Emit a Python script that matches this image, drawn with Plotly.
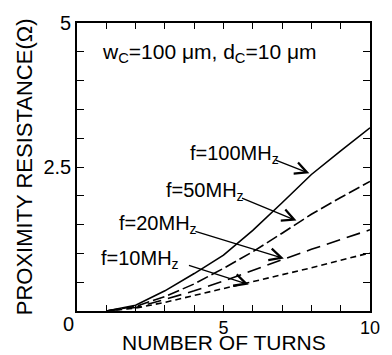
import plotly.graph_objects as go

turns = [1, 2, 3, 4, 5, 6, 7, 8, 9, 10]
r_100mhz = [0.0, 0.10, 0.35, 0.65, 0.97, 1.40, 1.88, 2.37, 2.78, 3.18]
r_50mhz = [0.0, 0.08, 0.25, 0.47, 0.74, 1.03, 1.35, 1.68, 1.97, 2.25]
r_20mhz = [0.0, 0.06, 0.20, 0.35, 0.52, 0.71, 0.89, 1.07, 1.24, 1.41]
r_10mhz = [0.0, 0.05, 0.15, 0.27, 0.39, 0.50, 0.62, 0.75, 0.88, 1.01]

series = [
    ("f=100MH<sub>z</sub>", r_100mhz, "solid"),
    ("f=50MH<sub>z</sub>", r_50mhz, "12px,4px"),
    ("f=20MH<sub>z</sub>", r_20mhz, "14px,7px"),
    ("f=10MH<sub>z</sub>", r_10mhz, "6px,4px"),
]

# label text position (x, y) and arrow tail -> tip in data coordinates
label_pos = [(3.78, 2.72), (2.96, 2.08), (1.35, 1.51), (0.76, 0.90)]
arrow_tail = [(6.73, 2.63), (5.58, 1.97), (3.99, 1.39), (3.77, 0.80)]
arrow_tip = [(7.93, 2.39), (7.49, 1.57), (7.06, 0.91), (5.86, 0.46)]

x_ticks = list(range(0, 11))
x_ticktext = ["5" if v == 5 else "10" if v == 10 else "" for v in x_ticks]
y_ticks = [i * 0.5 for i in range(11)]
y_ticktext = ["2.5" if v == 2.5 else "5" if v == 5 else "" for v in y_ticks]

FONT = "Liberation Sans, Arial, sans-serif"

fig = go.Figure()
for name, vals, dash in series:
    fig.add_trace(go.Scatter(x=turns, y=vals, mode="lines", name=name,
                             line=dict(color="black", width=1.6, dash=dash),
                             showlegend=False))

annotations = []
for (name, _, _), (lx, ly), (tx, ty), (hx, hy) in zip(series, label_pos, arrow_tail, arrow_tip):
    annotations.append(dict(x=lx, y=ly, xref="x", yref="y", text=name, showarrow=False,
                            xanchor="left", yanchor="middle",
                            font=dict(family=FONT, size=20, color="black")))
    annotations.append(dict(x=hx, y=hy, ax=tx, ay=ty, xref="x", yref="y", axref="x", ayref="y",
                            text="", showarrow=True, arrowhead=5, arrowsize=1.8,
                            arrowwidth=1.3, arrowcolor="black", standoff=0, startstandoff=0))

annotations.append(dict(x=0.08, y=0.895, xref="paper", yref="paper",
                        text="w<sub>C</sub>=100 \u03bcm, d<sub>C</sub>=10 \u03bcm",
                        showarrow=False, xanchor="left", yanchor="middle",
                        font=dict(family=FONT, size=21, color="black")))
annotations.append(dict(x=0, y=0, xref="x", yref="y", text="0", showarrow=False,
                        xshift=-9, yshift=-13,
                        font=dict(family=FONT, size=20, color="black")))
annotations.append(dict(x=0.5, y=-0.108, xref="paper", yref="paper", text="NUMBER OF TURNS",
                        showarrow=False, xanchor="center", yanchor="middle",
                        font=dict(family=FONT, size=21, color="black")))
annotations.append(dict(x=-0.18, y=0.5, xref="paper", yref="paper",
                        text="PROXIMITY RESISTANCE(\u03a9)", textangle=-90,
                        showarrow=False, xanchor="center", yanchor="middle",
                        font=dict(family=FONT, size=22, color="black")))

fig.update_layout(
    width=392, height=355,
    margin=dict(l=77, r=12, t=13, b=44),
    paper_bgcolor="white", plot_bgcolor="white",
    font=dict(family=FONT, size=20, color="black"),
    annotations=annotations,
)
fig.update_xaxes(range=[0, 10], tickvals=x_ticks, ticktext=x_ticktext,
                 ticks="inside", ticklen=6, tickwidth=1.3, tickcolor="black",
                 showline=True, linecolor="black", linewidth=1.6, mirror="ticks",
                 showgrid=False, zeroline=False, tickfont=dict(size=18))
fig.update_yaxes(range=[0, 5], tickvals=y_ticks, ticktext=y_ticktext,
                 ticks="inside", ticklen=7, tickwidth=1.3, tickcolor="black",
                 showline=True, linecolor="black", linewidth=1.6, mirror="ticks",
                 showgrid=False, zeroline=False, tickfont=dict(size=20))

fig.write_html("out.html")
